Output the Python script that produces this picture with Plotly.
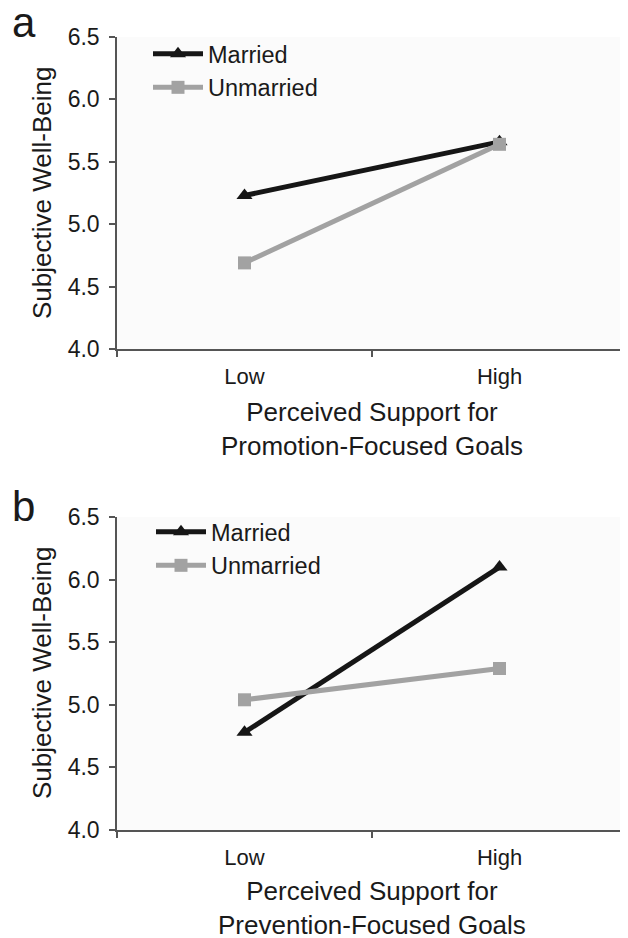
import plotly.graph_objects as go

levels = ["Low", "High"]
married_a = [5.23, 5.66]
unmarried_a = [4.69, 5.64]
married_b = [4.78, 6.10]
unmarried_b = [5.04, 5.29]
yticks = [4.0, 4.5, 5.0, 5.5, 6.0, 6.5]
ytick_text = ["4.0", "4.5", "5.0", "5.5", "6.0", "6.5"]
y_title = "Subjective Well-Being"
x_title_a = "Perceived Support for<br>Promotion-Focused Goals"
x_title_b = "Perceived Support for<br>Prevention-Focused Goals"

OFF = 8  # page body margin
W, H = 628 - OFF, 938 - OFF
L, R = 117 - OFF, 1
PW = W - L - R

def px_x(px):  # page pixel -> paper x
    return (px - OFF - L) / PW

def px_y(py):  # page pixel -> paper y
    return 1 - (py - OFF) / H

BLACK = "#161616"
GRAY = "#a2a2a2"
FONT = "Liberation Sans, Arial, sans-serif"
TXT = "#1a1a1a"

fig = go.Figure()

def add_panel(married, unmarried, xa, ya, legend):
    fig.add_trace(go.Scatter(
        x=levels, y=married, name="Married", xaxis=xa, yaxis=ya, legend=legend,
        mode="lines+markers",
        line=dict(color=BLACK, width=5),
        marker=dict(symbol="triangle-up", size=14, color=BLACK),
    ))
    fig.add_trace(go.Scatter(
        x=levels, y=unmarried, name="Unmarried", xaxis=xa, yaxis=ya, legend=legend,
        mode="lines+markers",
        line=dict(color=GRAY, width=5),
        marker=dict(symbol="square", size=13, color=GRAY),
    ))

add_panel(married_a, unmarried_a, "x", "y", "legend")
add_panel(married_b, unmarried_b, "x2", "y2", "legend2")

xaxis_common = dict(
    type="category", categoryorder="array", categoryarray=levels,
    range=[-0.5, 1.5], tickson="boundaries", ticks="outside", ticklen=6,
    tickcolor="#555", tickwidth=1.5, showline=True, linecolor="#555", linewidth=1.5,
    showgrid=False, zeroline=False, tickfont=dict(family=FONT, size=22, color=TXT),
    ticklabelstandoff=7, automargin=False, fixedrange=True,
)
yaxis_common = dict(
    range=[4.0, 6.5], tickvals=yticks, ticktext=ytick_text, ticks="outside", ticklen=6,
    tickcolor="#555", tickwidth=1.5, showline=True, linecolor="#555", linewidth=1.5,
    showgrid=False, zeroline=False, tickfont=dict(family=FONT, size=23, color=TXT),
    ticklabelstandoff=5, automargin=False, fixedrange=True,
)

fig.update_layout(
    width=W, height=H,
    margin=dict(l=L, r=R, t=0, b=0),
    paper_bgcolor="white",
    plot_bgcolor="#fbfbfb",
    font=dict(family=FONT, color=TXT),
    xaxis=dict(domain=[0, 1], anchor="y", **xaxis_common),
    yaxis=dict(domain=[px_y(349), px_y(37)], anchor="x", **yaxis_common),
    xaxis2=dict(domain=[0, 1], anchor="y2", **xaxis_common),
    yaxis2=dict(domain=[px_y(830), px_y(517)], anchor="x2", **yaxis_common),
    legend=dict(x=px_x(148), y=px_y(32), xanchor="left", yanchor="top",
                bgcolor="rgba(0,0,0,0)", font=dict(family=FONT, size=23.5, color=TXT),
                itemwidth=50, tracegroupgap=0),
    legend2=dict(x=px_x(151), y=px_y(510), xanchor="left", yanchor="top",
                 bgcolor="rgba(0,0,0,0)", font=dict(family=FONT, size=23.5, color=TXT),
                 itemwidth=50, tracegroupgap=0),
    showlegend=True,
)

annots = [
    dict(text=x_title_a, x=px_x(372), y=px_y(429)),
    dict(text=x_title_b, x=px_x(372), y=px_y(908)),
    dict(text=y_title, x=px_x(42), y=px_y(193), textangle=-90),
    dict(text=y_title, x=px_x(42), y=px_y(673), textangle=-90),
]
for a in annots:
    fig.add_annotation(xref="paper", yref="paper", showarrow=False,
                       xanchor="center", yanchor="middle",
                       font=dict(family=FONT, size=26, color=TXT), **a)

fig.add_annotation(text="a", xref="paper", yref="paper", x=px_x(10), y=px_y(23),
                   xanchor="left", yanchor="middle", showarrow=False,
                   font=dict(family=FONT, size=42, color=TXT))
fig.add_annotation(text="b", xref="paper", yref="paper", x=px_x(10), y=px_y(507),
                   xanchor="left", yanchor="middle", showarrow=False,
                   font=dict(family=FONT, size=42, color=TXT))

fig.write_html("out.html")
